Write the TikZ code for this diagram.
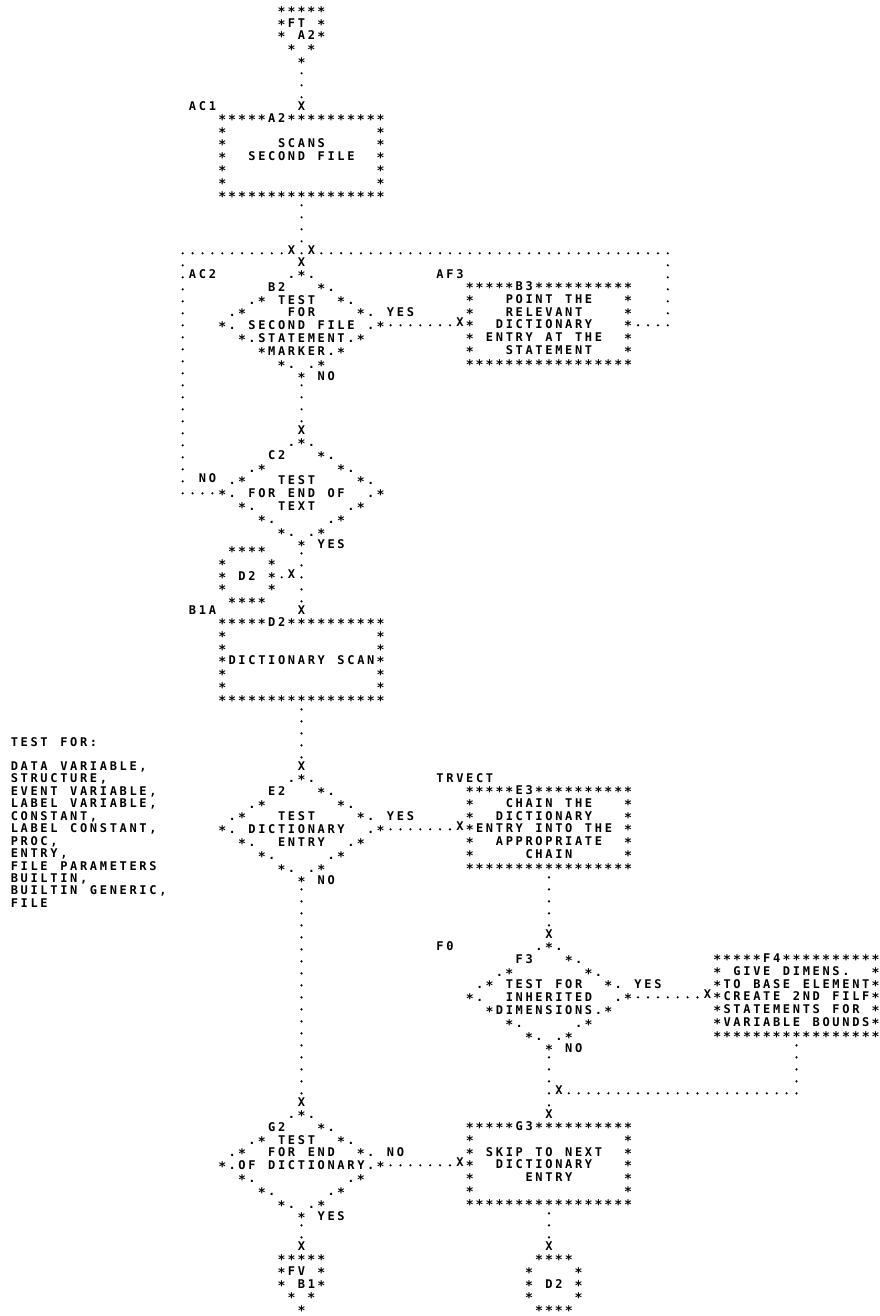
\documentclass[tikz,border=0pt]{standalone}
\usepackage{fontspec}
\usepackage{graphicx}
\newfontfamily\chartfont{DejaVu Sans Mono}
\ExplSyntaxOn
\cs_new_protected:Npn \chart_cell:n #1
  {
    \str_if_eq:nnTF {#1} {/}
      { \hbox_to_wd:nn {9.9pt} { } }
      {
        \str_if_eq:nnTF {#1} {*}
          { \hbox_to_wd:nn {9.9pt} { \hss \raisebox{-2.0pt}{\scalebox{1.1}{*}} \hss } }
          { \hbox_to_wd:nn {9.9pt} { \hss #1 \hss } }
      }
  }
\NewDocumentCommand \gline { m }
  { \hbox:n { \rule[-1.2pt]{0pt}{12pt} \tl_map_function:nN {#1} \chart_cell:n } }
\ExplSyntaxOff
\newcommand\cnode[4]{\node[ctext] (#1) at ({301.5+9.9*(#2)-4.95},{10+12*(#3)+4.4}) {\vtop{\offinterlineskip#4}};}
\newcommand\dotpt[3]{\coordinate (#1) at ({301.5+9.9*(#2)},{10+12*(#3)+3.3});}
\tikzset{
  ctext/.style={anchor=base west, inner sep=0pt, outer sep=0pt, text=black,
    font=\chartfont\bfseries\fontsize{12pt}{12pt}\selectfont},
  vdots/.style={line width=2.4pt, line cap=round, dash pattern=on 0pt off 12pt, shorten >=-0.6pt},
  hdots/.style={line width=2.4pt, line cap=round, dash pattern=on 0pt off 9.9pt, shorten >=-0.6pt},
}
\begin{document}
\begin{tikzpicture}[x=1pt,y=-1pt]
\path[fill=white,use as bounding box] (0,0) rectangle (879,1316);

% ---- FT connector and box A2
\cnode{ft}{-2}{0}{\gline{*****}\gline{*FT/*}\gline{*/A2*}\gline{/*/*}\gline{//*}}
\cnode{xa2}{0}{8}{\gline{X}}
\cnode{lac1}{-11}{8}{\gline{AC1}}
\cnode{a2}{-8}{9}{%
\gline{*****A2**********}
\gline{*///////////////*}
\gline{*/////SCANS/////*}
\gline{*//SECOND/FILE//*}
\gline{*///////////////*}
\gline{*///////////////*}
\gline{*****************}}

% ---- B2 / B3
\cnode{xl20}{-1}{20}{\gline{X}}
\cnode{xr20}{1}{20}{\gline{X}}
\cnode{xb2}{0}{21}{\gline{X}}
\cnode{lac2}{-11}{22}{\gline{AC2}}
\cnode{laf3}{14}{22}{\gline{AF3}}
\cnode{b2}{-8}{22}{%
\gline{///////.*.}
\gline{/////B2///*.}
\gline{///.*/TEST//*.}
\gline{/.*////FOR////*./YES}
\gline{*./SECOND/FILE/.*}
\gline{//*.STATEMENT.*}
\gline{////*MARKER.*}
\gline{//////*./.*}
\gline{////////*/NO}}
\cnode{xb3}{16}{26}{\gline{X}}
\cnode{b3}{17}{23}{%
\gline{*****B3**********}
\gline{*///POINT/THE///*}
\gline{*///RELEVANT////*}
\gline{*//DICTIONARY///*}
\gline{*/ENTRY/AT/THE//*}
\gline{*///STATEMENT///*}
\gline{*****************}}

% ---- C2
\cnode{xc2}{0}{35}{\gline{X}}
\cnode{c2}{-8}{36}{%
\gline{///////.*.}
\gline{/////C2///*.}
\gline{///.*///////*.}
\gline{/.*///TEST////*.}
\gline{*./FOR/END/OF//.*}
\gline{//*.//TEXT///.*}
\gline{////*./////.*}
\gline{//////*./.*}
\gline{////////*/YES}}
\cnode{lno2}{-10}{39}{\gline{NO}}

% ---- D2 entry connector and box D2
\cnode{d2in}{-8}{45}{\gline{/****}\gline{*////*}\gline{*/D2/*}\gline{*////*}\gline{/****}}
\cnode{xd2}{-1}{47}{\gline{X}}
\cnode{lb1a}{-11}{50}{\gline{B1A}}
\cnode{xd2b}{0}{50}{\gline{X}}
\cnode{d2}{-8}{51}{%
\gline{*****D2**********}
\gline{*///////////////*}
\gline{*///////////////*}
\gline{*DICTIONARY/SCAN*}
\gline{*///////////////*}
\gline{*///////////////*}
\gline{*****************}}

% ---- note
\cnode{note}{-29}{61}{%
\gline{TEST/FOR:}
\gline{/}
\gline{DATA/VARIABLE,}
\gline{STRUCTURE,}
\gline{EVENT/VARIABLE,}
\gline{LABEL/VARIABLE,}
\gline{CONSTANT,}
\gline{LABEL/CONSTANT,}
\gline{PROC,}
\gline{ENTRY,}
\gline{FILE/PARAMETERS}
\gline{BUILTIN,}
\gline{BUILTIN/GENERIC,}
\gline{FILE}}

% ---- E2 / E3
\cnode{xe2}{0}{63}{\gline{X}}
\cnode{e2}{-8}{64}{%
\gline{///////.*.}
\gline{/////E2///*.}
\gline{///.*///////*.}
\gline{/.*///TEST////*./YES}
\gline{*./DICTIONARY//.*}
\gline{//*.//ENTRY//.*}
\gline{////*./////.*}
\gline{//////*./.*}
\gline{////////*/NO}}
\cnode{ltrv}{14}{64}{\gline{TRVECT}}
\cnode{xe3}{16}{68}{\gline{X}}
\cnode{e3}{17}{65}{%
\gline{*****E3**********}
\gline{*///CHAIN/THE///*}
\gline{*//DICTIONARY///*}
\gline{*ENTRY/INTO/THE/*}
\gline{*//APPROPRIATE//*}
\gline{*/////CHAIN/////*}
\gline{*****************}}

% ---- F3 / F4
\cnode{xf3}{25}{77}{\gline{X}}
\cnode{lf0}{14}{78}{\gline{F0}}
\cnode{f3}{17}{78}{%
\gline{///////.*.}
\gline{/////F3///*.}
\gline{///.*///////*.}
\gline{/.*/TEST/FOR//*./YES}
\gline{*.//INHERITED//.*}
\gline{//*DIMENSIONS.*}
\gline{////*./////.*}
\gline{//////*./.*}
\gline{////////*/NO}}
\cnode{xf4}{41}{82}{\gline{X}}
\cnode{f4}{42}{79}{%
\gline{*****F4**********}
\gline{*/GIVE/DIMENS.//*}
\gline{*TO/BASE/ELEMENT*}
\gline{*CREATE/2ND/FILF*}
\gline{*STATEMENTS/FOR/*}
\gline{*VARIABLE/BOUNDS*}
\gline{*****************}}
\cnode{xret}{26}{90}{\gline{X}}
\cnode{xg3}{25}{92}{\gline{X}}

% ---- G2 / G3
\cnode{xg2}{0}{91}{\gline{X}}
\cnode{g2}{-8}{92}{%
\gline{///////.*.}
\gline{/////G2///*.}
\gline{///.*/TEST//*.}
\gline{/.*//FOR/END//*./NO}
\gline{*.OF/DICTIONARY.*}
\gline{//*./////////.*}
\gline{////*./////.*}
\gline{//////*./.*}
\gline{////////*/YES}}
\cnode{xg3l}{16}{96}{\gline{X}}
\cnode{g3}{17}{93}{%
\gline{*****G3**********}
\gline{*///////////////*}
\gline{*/SKIP/TO/NEXT//*}
\gline{*//DICTIONARY///*}
\gline{*/////ENTRY/////*}
\gline{*///////////////*}
\gline{*****************}}

% ---- exit connectors
\cnode{xfv}{0}{103}{\gline{X}}
\cnode{fv}{-2}{104}{\gline{*****}\gline{*FV/*}\gline{*/B1*}\gline{/*/*}\gline{//*}}
\cnode{xd2c}{25}{103}{\gline{X}}
\cnode{d2out}{23}{104}{\gline{/****}\gline{*////*}\gline{*/D2/*}\gline{*////*}\gline{/****}}

% ---- connector end points
\dotpt{ftA}{0}{5}    \dotpt{ftB}{0}{7}
\dotpt{a2A}{0}{16}   \dotpt{a2B}{0}{20}
\dotpt{rlA}{34}{26}  \dotpt{rlB}{37}{26}
\dotpt{rlC}{37}{25}  \dotpt{rlD}{37}{20}
\dotpt{rlE}{36}{20}  \dotpt{rlF}{2}{20}
\dotpt{llA}{-9}{40}  \dotpt{llB}{-12}{40}
\dotpt{llC}{-12}{39} \dotpt{llD}{-12}{20}
\dotpt{llE}{-11}{20} \dotpt{llF}{-2}{20}
\dotpt{b2yA}{9}{26}  \dotpt{b2yB}{15}{26}
\dotpt{b2nA}{0}{31}  \dotpt{b2nB}{0}{34}
\dotpt{c2yA}{0}{45}  \dotpt{c2yB}{0}{49}
\dotpt{d2dot}{-2}{47}
\dotpt{d2A}{0}{58}   \dotpt{d2B}{0}{62}
\dotpt{e2yA}{9}{68}  \dotpt{e2yB}{15}{68}
\dotpt{e3A}{25}{72}  \dotpt{e3B}{25}{76}
\dotpt{f3yA}{34}{82} \dotpt{f3yB}{40}{82}
\dotpt{f3nA}{25}{87} \dotpt{f3nB}{25}{91}
\dotpt{f4A}{50}{86}  \dotpt{f4B}{50}{90}
\dotpt{f4C}{49}{90}  \dotpt{f4D}{27}{90}
\dotpt{e2nA}{0}{73}  \dotpt{e2nB}{0}{90}
\dotpt{g2nA}{9}{96}  \dotpt{g2nB}{15}{96}
\dotpt{g2yA}{0}{101} \dotpt{g2yB}{0}{102}
\dotpt{g3A}{25}{100} \dotpt{g3B}{25}{102}

% ---- connectors
\draw[vdots] (ftA) -- (ftB);
\draw[vdots] (a2A) -- (a2B);
\draw[hdots] (rlA) -- (rlB);
\draw[vdots] (rlC) -- (rlD);
\draw[hdots] (rlE) -- (rlF);
\draw[hdots] (llA) -- (llB);
\draw[vdots] (llC) -- (llD);
\draw[hdots] (llE) -- (llF);
\draw[hdots] (b2yA) -- (b2yB);
\draw[vdots] (b2nA) -- (b2nB);
\draw[vdots] (c2yA) -- (c2yB);
\fill (d2dot) circle[radius=1.2pt];
\draw[vdots] (d2A) -- (d2B);
\draw[hdots] (e2yA) -- (e2yB);
\draw[vdots] (e3A) -- (e3B);
\draw[hdots] (f3yA) -- (f3yB);
\draw[vdots] (f3nA) -- (f3nB);
\draw[vdots] (f4A) -- (f4B);
\draw[hdots] (f4C) -- (f4D);
\draw[vdots] (e2nA) -- (e2nB);
\draw[hdots] (g2nA) -- (g2nB);
\draw[vdots] (g2yA) -- (g2yB);
\draw[vdots] (g3A) -- (g3B);
\end{tikzpicture}
\end{document}
